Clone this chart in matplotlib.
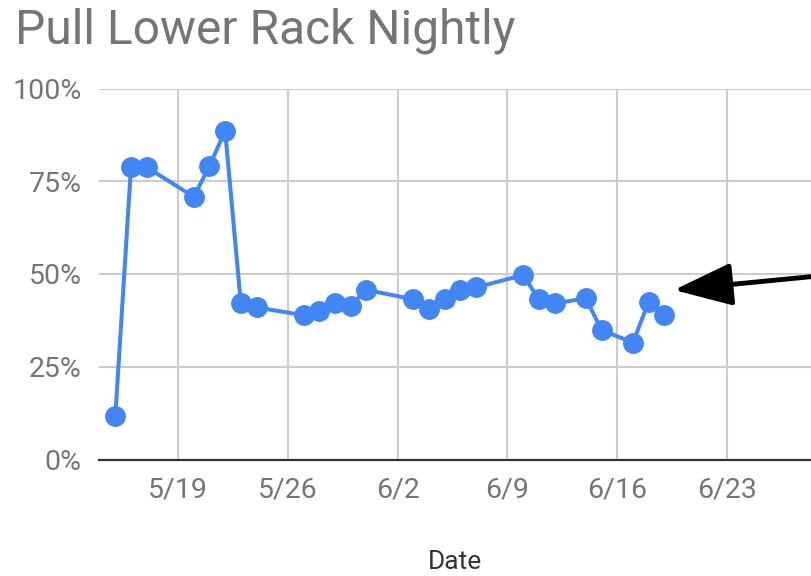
import matplotlib
matplotlib.use("Agg")
import matplotlib.pyplot as plt
import datetime as dt

plt.rcParams['font.family'] = ['Roboto', 'DejaVu Sans']

dates = ["2018-05-15", "2018-05-16", "2018-05-17", "2018-05-20", "2018-05-21", "2018-05-22",
         "2018-05-23", "2018-05-24", "2018-05-27", "2018-05-28", "2018-05-29", "2018-05-30",
         "2018-05-31", "2018-06-03", "2018-06-04", "2018-06-05", "2018-06-06", "2018-06-07",
         "2018-06-10", "2018-06-11", "2018-06-12", "2018-06-14", "2018-06-15", "2018-06-17",
         "2018-06-18", "2018-06-19"]
values = [11.8, 78.9, 78.8, 70.8, 79.1, 88.6,
          42.1, 41.0, 38.9, 40.0, 42.3, 41.4,
          45.7, 43.2, 40.6, 43.2, 45.7, 46.4,
          49.7, 43.2, 42.1, 43.4, 34.9, 31.5,
          42.5, 38.9]
tick_dates = ["2018-05-19", "2018-05-26", "2018-06-02", "2018-06-09", "2018-06-16", "2018-06-23"]
tick_labels = ["5/19", "5/26", "6/2", "6/9", "6/16", "6/23"]
y_ticks = [0, 25, 50, 75, 100]
y_labels = ["0%", "25%", "50%", "75%", "100%"]

x = [dt.datetime.strptime(d, "%Y-%m-%d") for d in dates]
xt = [dt.datetime.strptime(d, "%Y-%m-%d") for d in tick_dates]

fig = plt.figure(figsize=(8.12, 5.76), dpi=100)
ax = fig.add_axes([99/812, 1 - 459.5/576, 1 - 99/812, (459.5 - 88.5)/576])

grey = "#757575"
blue = "#4285F4"

ax.plot(x, values, color=blue, lw=2.9, marker='o', ms=14, zorder=3, clip_on=False)

ax.set_xticks(xt)
ax.set_xticklabels(tick_labels)
ax.set_yticks(y_ticks)
ax.set_yticklabels(y_labels)
ax.set_xlim(dt.datetime(2018, 5, 13, 23), dt.datetime(2018, 6, 28, 10))
ax.set_ylim(0, 100)

ax.grid(True, color="#cccccc", lw=1.5)
ax.set_axisbelow(True)
for s in ['top', 'right', 'left']:
    ax.spines[s].set_visible(False)
ax.spines['bottom'].set_color('#333333')
ax.spines['bottom'].set_linewidth(1.6)
ax.spines['bottom'].set_zorder(2)

ax.tick_params(axis='both', length=0, labelsize=20.5, labelcolor=grey)
ax.tick_params(axis='x', pad=12)
ax.tick_params(axis='y', pad=12.5)

ax.set_xlabel("Date", fontsize=19, color="#333333", labelpad=34)

fig.text(15/812, 1 - 43/576, "Pull Lower Rack Nightly", fontsize=34.5, color=grey,
         ha='left', va='baseline')

ax.annotate('', xy=(674/812, 1 - 290/576), xytext=(1.02, 1 - 275/576),
            xycoords='figure fraction', textcoords='figure fraction',
            arrowprops=dict(arrowstyle='-|>,head_length=0.9,head_width=0.33',
                            mutation_scale=40, lw=3.5, color='black',
                            shrinkA=0, shrinkB=0))

fig.savefig("out.png", dpi=100)
